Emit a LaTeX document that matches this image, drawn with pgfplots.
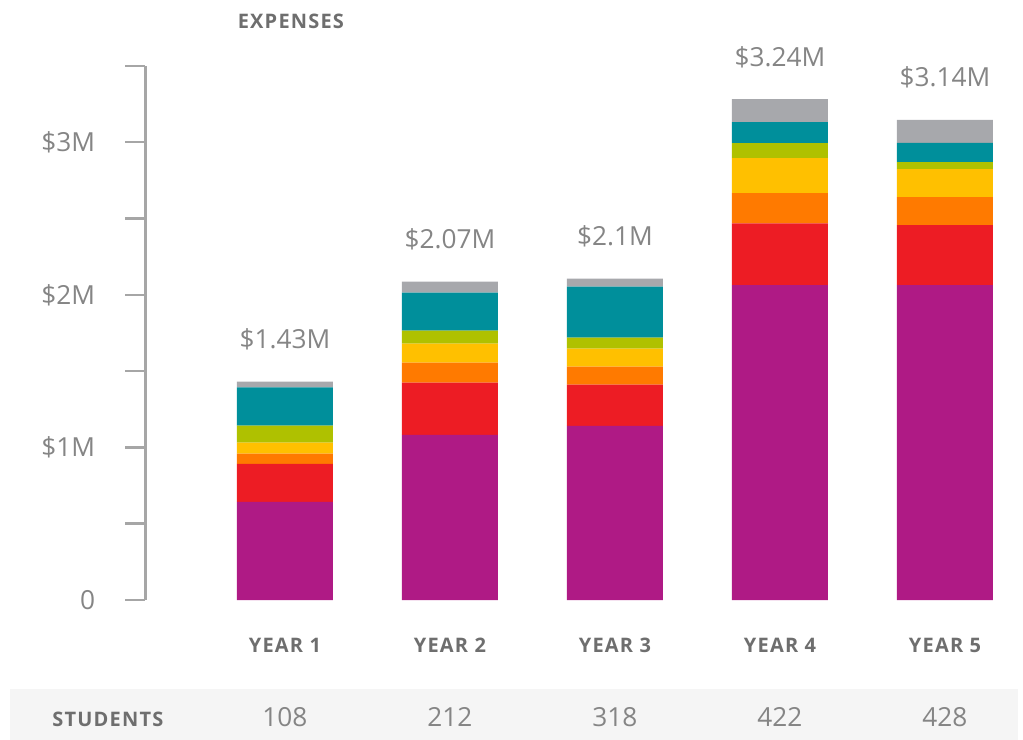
\documentclass[border=0pt]{standalone}
\usepackage{fontspec}
\setmainfont{Open Sans}
\usepackage{pgfplots}
\pgfplotsset{compat=1.18}
\definecolor{cPurple}{HTML}{AF1A85}
\definecolor{cRed}{HTML}{ED1C24}
\definecolor{cOrange}{HTML}{FF7A00}
\definecolor{cYellow}{HTML}{FFC000}
\definecolor{cGreen}{HTML}{AFC100}
\definecolor{cTeal}{HTML}{008F9B}
\definecolor{cGray}{HTML}{A7A8AC}
\definecolor{axisgray}{HTML}{A6A6A6}
\definecolor{labelgray}{HTML}{858585}
\definecolor{headgray}{HTML}{6E6E6E}
\definecolor{bandgray}{HTML}{F5F5F5}

\newcommand{\capsfont}{\bfseries\fontsize{8}{9}\selectfont\addfontfeature{LetterSpace=6}}
\newcommand{\numfont}{\fontsize{10.5}{12}\selectfont}
\tikzset{total/.style={font=\numfont, text=labelgray, anchor=base, inner sep=0pt, yshift=13.2pt}}

\begin{document}
\begin{tikzpicture}
  \begin{axis}[
      x=66pt, y=61.04pt,
      xmin=0.152, xmax=5.4, ymin=0, ymax=3.5,
      enlargelimits=false, clip=false,
      ybar stacked, bar width=38.4pt,
      axis lines=left, axis line style={-},
      x axis line style={draw=none},
      y axis line style={draw=axisgray, line width=1.2pt},
      xtick={1,2,3,4,5},
      xticklabels={YEAR 1,YEAR 2,YEAR 3,YEAR 4,YEAR 5},
      xtick style={draw=none},
      ytick={0,0.5,1,1.5,2,2.5,3,3.5},
      yticklabels={0,,\$1M,,\$2M,,\$3M,},
      ytick style={draw=axisgray, line width=1pt},
      tick align=outside, major tick length=8pt,
      yticklabel style={font=\numfont, text=labelgray,
        anchor=east, inner sep=0pt, xshift=-11.8pt},
      xticklabel style={font=\capsfont, text=headgray,
        anchor=north, inner sep=0pt, yshift=-7pt},
      every axis plot/.append style={draw=none},
    ]
    \addplot[fill=cPurple] coordinates {(1,0.643)(2,1.083)(3,1.142)(4,2.064)(5,2.064)};
    \addplot[fill=cRed]    coordinates {(1,0.250)(2,0.341)(3,0.269)(4,0.405)(5,0.392)};
    \addplot[fill=cOrange] coordinates {(1,0.066)(2,0.131)(3,0.118)(4,0.197)(5,0.184)};
    \addplot[fill=cYellow] coordinates {(1,0.072)(2,0.125)(3,0.118)(4,0.230)(5,0.184)};
    \addplot[fill=cGreen]  coordinates {(1,0.112)(2,0.085)(3,0.072)(4,0.098)(5,0.046)};
    \addplot[fill=cTeal]   coordinates {(1,0.250)(2,0.250)(3,0.335)(4,0.138)(5,0.125)};
    \addplot[fill=cGray]   coordinates {(1,0.039)(2,0.072)(3,0.053)(4,0.151)(5,0.151)};

    % totals above the bars (stack heights)
    \node[total] at (axis cs:1,1.432) {\$1.43M};
    \node[total] at (axis cs:2,2.087) {\$2.07M};
    \node[total] at (axis cs:3,2.108) {\$2.1M};
    \node[total] at (axis cs:4,3.283) {\$3.24M};
    \node[total] at (axis cs:5,3.146) {\$3.14M};

    \node[font=\capsfont, text=headgray, anchor=base] at (axis cs:1.036,3.748) {EXPENSES};

    % anchors for the students row, drawn after the axis
    \coordinate (bbA) at (axis cs:-0.727,-0.917);
    \coordinate (bbB) at (axis cs:5.473,3.932);
    \coordinate (bandA) at (axis cs:-0.667,-0.583);
    \coordinate (bandB) at (axis cs:5.442,-0.917);
    \coordinate (st0) at (axis cs:-0.073,-0.832);
    \coordinate (st1) at (axis cs:1,-0.832);
    \coordinate (st2) at (axis cs:2,-0.832);
    \coordinate (st3) at (axis cs:3,-0.832);
    \coordinate (st4) at (axis cs:4,-0.832);
    \coordinate (st5) at (axis cs:5,-0.832);
  \end{axis}
  \path (bbA) rectangle (bbB);
  \fill[bandgray] (bandA) rectangle (bandB);
  \node[font=\capsfont, text=headgray, anchor=base] at (st0) {STUDENTS};
  \foreach \i/\n in {1/108,2/212,3/318,4/422,5/428}
    \node[font=\numfont, text=labelgray, anchor=base] at (st\i) {\n};
\end{tikzpicture}
\end{document}
